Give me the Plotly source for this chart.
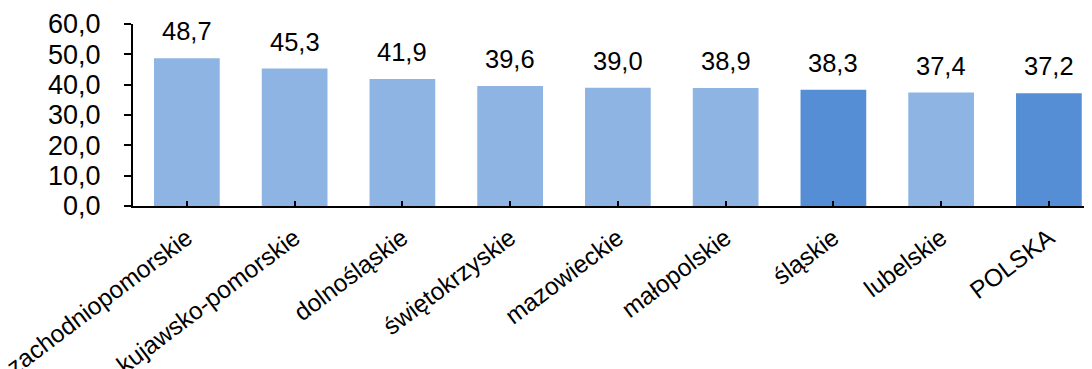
import plotly.graph_objects as go

regions = ['zachodniopomorskie', 'kujawsko-pomorskie', 'dolnośląskie', 'świętokrzyskie',
           'mazowieckie', 'małopolskie', 'śląskie', 'lubelskie', 'POLSKA']
values = [48.7, 45.3, 41.9, 39.6, 39.0, 38.9, 38.3, 37.4, 37.2]
highlight = ['śląskie', 'POLSKA']
y_ticks = [0, 10, 20, 30, 40, 50, 60]

light = '#8EB4E3'
dark = '#558ED5'
colors = [dark if r in highlight else light for r in regions]

def pl(v):
	# polish decimal comma
	return '{:.1f}'.format(v).replace('.', ',')

fig = go.Figure()
fig.add_trace(go.Bar(x=regions, y=values, marker=dict(color=colors, line=dict(width=0)),
                     width=0.61, hoverinfo='x+y'))

for r, v in zip(regions, values):
	fig.add_annotation(x=r, y=v, text=pl(v), showarrow=False, yanchor='bottom', yshift=11,
	                   font=dict(family='Liberation Sans, Arial', size=25.5, color='black'))

fig.update_xaxes(
	range=[-0.5, 8.4], automargin=False,
	showline=True, linecolor='black', linewidth=2,
	ticks='inside', ticklen=5, tickcolor='black', tickwidth=2,
	tickangle=-37, ticklabelstandoff=6,
	tickfont=dict(family='Liberation Sans, Arial', size=24.5, color='black'),
	showgrid=False
)
fig.update_yaxes(
	range=[0, 60], automargin=False,
	tickvals=y_ticks, ticktext=[pl(t) for t in y_ticks],
	showline=True, linecolor='black', linewidth=2,
	ticks='outside', ticklen=7, tickcolor='black', tickwidth=2,
	ticklabelstandoff=18,
	tickfont=dict(family='Liberation Sans, Arial', size=27, color='black'),
	showgrid=False, zeroline=False
)

# page has an 8px body margin, so the figure is a bit smaller than the window
fig.update_layout(width=1084, height=361,
                  margin=dict(l=125, r=0, t=16, b=163),
                  plot_bgcolor='white', paper_bgcolor='white',
                  showlegend=False)

fig.write_html("out.html")
